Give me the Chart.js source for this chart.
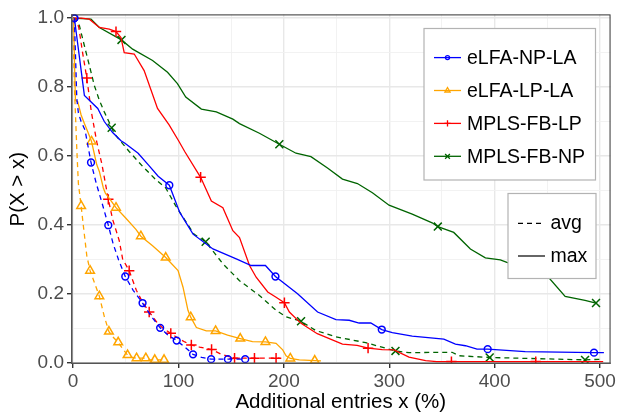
<!DOCTYPE html>
<html><head><meta charset="utf-8">
<script src="https://cdn.jsdelivr.net/npm/chart.js@4"></script>
<style>html,body{margin:0;padding:0;background:#fff}</style>
</head><body>
<canvas id="c" width="618" height="420" style="width:618px;height:420px;display:block"></canvas>
<script>
// ---------- data ----------
const seriesNames = ['eLFA-NP-LA', 'eLFA-LP-LA', 'MPLS-FB-LP', 'MPLS-FB-NP'];
const statNames = ['avg', 'max'];
const xTickValues = [0, 100, 200, 300, 400, 500];
const yTickValues = [0.0, 0.2, 0.4, 0.6, 0.8, 1.0];
const xTitle = 'Additional entries x (%)';
const yTitle = 'P(X > x)';

// eLFA-NP-LA
const npAvg = [[1.2,1.0],[2.5,0.87],[3.5,0.767],[5,0.725],[7.6,0.70],[11.3,0.675],[17,0.581],[22,0.52],[27.4,0.464],[33.4,0.399],[38,0.345],[43.2,0.298],[49.5,0.25],[57,0.21],[65.9,0.173],[74,0.135],[82.6,0.101],[90,0.08],[98.3,0.064],[106,0.045],[113.8,0.024],[122,0.015],[131,0.01],[146.9,0.01],[163.3,0.01]];
const npAvgMarks = [[1.2,1.0],[17,0.581],[33.4,0.399],[49.5,0.25],[65.9,0.173],[82.6,0.101],[98.3,0.064],[113.8,0.024],[131,0.01],[146.9,0.01],[163.3,0.01]];
const npMax = [[1.2,1.0],[10.7,0.776],[15.4,0.762],[23.4,0.738],[29.6,0.70],[37.5,0.668],[45.4,0.644],[49.2,0.637],[61.7,0.608],[71.2,0.575],[80.7,0.541],[91.3,0.515],[101.2,0.436],[113.8,0.373],[132.7,0.33],[154.8,0.301],[169,0.282],[182.5,0.282],[192,0.25],[213,0.20],[232,0.147],[249.4,0.125],[262,0.123],[271.4,0.115],[282.5,0.115],[292.9,0.096],[302.9,0.087],[321.8,0.077],[351.8,0.068],[362.8,0.054],[372.3,0.049],[383.3,0.039],[393.4,0.039],[429,0.032],[494.3,0.029],[503.7,0.029]];
const npMaxMarks = [[1.2,1.0],[91.3,0.515],[192,0.25],[292.9,0.096],[393.4,0.039],[494.3,0.029]];

// eLFA-LP-LA
const lpAvg = [[0,1.0],[0.6,0.88],[1.5,0.78],[2.5,0.70],[3.5,0.62],[5,0.52],[7.6,0.455],[10,0.39],[13,0.31],[16.1,0.267],[20.5,0.23],[24.9,0.193],[29.5,0.135],[34,0.09],[38.5,0.072],[42.8,0.059],[47,0.04],[51.7,0.022],[56,0.015],[60.2,0.013],[69,0.013],[73,0.008],[77.5,0.008],[86.3,0.008]];
const lpAvgMarks = [[7.6,0.455],[16.1,0.267],[24.9,0.193],[34,0.09],[42.8,0.059],[51.7,0.022],[60.2,0.013],[69,0.013],[77.5,0.008],[86.3,0.008]];
const lpMax = [[0.5,1.0],[1.5,0.85],[2.2,0.762],[4.4,0.757],[7.6,0.719],[10.7,0.694],[13.9,0.67],[17.5,0.642],[22.4,0.575],[24.9,0.555],[28.7,0.507],[30.5,0.493],[40.7,0.45],[50.1,0.419],[59.6,0.387],[64.3,0.367],[75.4,0.339],[87.9,0.305],[99.6,0.267],[104.3,0.219],[109,0.152],[111.6,0.132],[117,0.102],[126.4,0.092],[135.2,0.092],[146.6,0.08],[158.6,0.07],[170.2,0.061],[182.5,0.06],[192.6,0.056],[198.9,0.037],[202.1,0.02],[206.1,0.012],[214.7,0.008],[229.3,0.006],[235.2,0.005]];
const lpMaxMarks = [[17.5,0.642],[40.7,0.45],[64.3,0.367],[87.9,0.305],[111.6,0.132],[135.2,0.092],[158.6,0.07],[182.5,0.06],[206.1,0.012],[229.3,0.006]];

// MPLS-FB-LP
const fbLpAvg = [[0,1.0],[3,0.995],[5.4,0.973],[9,0.90],[13,0.826],[17.3,0.728],[22.5,0.64],[27.4,0.575],[33.4,0.474],[37.5,0.416],[43.8,0.354],[47,0.301],[53.2,0.267],[60,0.21],[66,0.175],[72.2,0.147],[80,0.115],[86,0.098],[92.7,0.085],[100,0.07],[106,0.06],[112.2,0.051],[120,0.045],[131.4,0.038],[140,0.025],[153.2,0.013],[172.1,0.013],[192.6,0.013],[196,0.013]];
const fbLpAvgMarks = [[13,0.826],[33.4,0.474],[53.2,0.267],[72.2,0.147],[92.7,0.085],[112.2,0.051],[131.4,0.038],[153.2,0.013],[172.1,0.013],[192.6,0.013]];
const fbLpMax = [[0,1.0],[8,1.0],[15.4,0.997],[24.9,0.973],[34.3,0.968],[40.7,0.961],[45.4,0.944],[48.5,0.90],[58,0.896],[67.4,0.848],[80.1,0.738],[91.1,0.69],[100.5,0.642],[105.9,0.613],[121,0.538],[131.2,0.469],[142.1,0.45],[151.6,0.383],[157.9,0.363],[167.4,0.282],[173.7,0.248],[184.7,0.205],[192.6,0.19],[200.5,0.174],[205.2,0.147],[216.3,0.114],[231.7,0.084],[255.6,0.054],[269.5,0.05],[279.9,0.042],[293.4,0.038],[304.5,0.037],[318.7,0.016],[334.5,0.006],[345,0.003],[503,0.003]];
const fbLpMaxMarks = [[40.7,0.961],[121,0.538],[200.5,0.174],[279.9,0.042],[359,0.003],[439,0.003]];

// MPLS-FB-NP
const fbNpAvg = [[0,1.0],[3,0.995],[6,0.978],[10.7,0.92],[15.4,0.863],[20.1,0.805],[24.9,0.762],[29.6,0.728],[36.6,0.682],[39,0.665],[53.2,0.613],[65.9,0.57],[78.5,0.531],[87.9,0.507],[97.4,0.455],[114.7,0.373],[125.8,0.351],[142.1,0.287],[157.9,0.238],[176.8,0.195],[192.6,0.152],[202.1,0.133],[216.3,0.12],[230.4,0.093],[249.4,0.075],[277.7,0.058],[305.9,0.034],[318.7,0.029],[359.6,0.03],[366,0.02],[395.3,0.015],[485.8,0.008],[503,0.01]];
const fbNpAvgMarks = [[36.6,0.682],[125.8,0.351],[216.3,0.12],[305.9,0.034],[395.3,0.015],[485.8,0.008]];
const fbNpMax = [[0,1.0],[17,0.997],[24.9,0.973],[45.9,0.937],[56.5,0.91],[75.4,0.877],[89.6,0.843],[99,0.81],[106.9,0.771],[121.7,0.736],[135.9,0.728],[151.6,0.707],[157.9,0.694],[176.8,0.666],[195.7,0.634],[211.5,0.608],[225.7,0.598],[241.4,0.565],[255.6,0.533],[269.8,0.52],[284,0.493],[299.8,0.457],[321.8,0.431],[340.7,0.406],[346.1,0.395],[361.2,0.378],[377,0.33],[391.2,0.304],[405.4,0.298],[411.6,0.291],[432,0.273],[451.1,0.248],[466.9,0.192],[485.8,0.181],[496.2,0.173]];
const fbNpMaxMarks = [[45.9,0.937],[195.7,0.634],[346.1,0.395],[496.2,0.173]];

// ---------- styling ----------
const colors = ['#0000ff', '#ffa500', '#ff0000', '#006400'];
const markerStyles = ['circle', 'triangle', 'cross', 'crossRot'];
const markerRadius = [3.4, 5.0, 5.2, 5.6];
const DASH = [5, 4];
const FONT = '"Liberation Sans", Arial, sans-serif';

const lineSets = [
  [npAvg, npMax, npAvgMarks, npMaxMarks],
  [lpAvg, lpMax, lpAvgMarks, lpMaxMarks],
  [fbLpAvg, fbLpMax, fbLpAvgMarks, fbLpMaxMarks],
  [fbNpAvg, fbNpMax, fbNpAvgMarks, fbNpMaxMarks]
];
const toXY = arr => arr.map(p => ({x: p[0], y: p[1]}));

const datasets = [];
lineSets.forEach((s, i) => {
  [0, 1].forEach(k => {
    datasets.push({
      label: seriesNames[i] + ' ' + statNames[k],
      data: toXY(s[k]),
      showLine: true,
      borderColor: colors[i],
      borderWidth: 1.3,
      borderDash: k === 0 ? DASH : [],
      pointRadius: 0,
      pointHoverRadius: 0,
      tension: 0,
      fill: false
    });
    datasets.push({
      label: seriesNames[i] + ' ' + statNames[k] + ' markers',
      data: toXY(s[k + 2]),
      showLine: false,
      pointStyle: markerStyles[i],
      pointRadius: markerRadius[i],
      pointBorderWidth: 1.5,
      pointBorderColor: colors[i],
      pointBackgroundColor: 'rgba(0,0,0,0)',
      borderColor: colors[i]
    });
  });
});

const isMajorX = v => Math.abs(v % 100) < 1e-6;
const isMajorY = v => Math.abs(Math.round(v * 10) % 2) === 0;

const framePlugin = {
  id: 'frame',
  afterDraw(chart) {
    const ctx = chart.ctx, a = chart.chartArea;
    ctx.save();
    // panel border
    ctx.strokeStyle = '#333333';
    ctx.lineWidth = 1;
    ctx.strokeRect(a.left + 0.5, a.top + 0.5, a.right - a.left - 1, a.bottom - a.top - 1);
    // axis lines
    ctx.strokeStyle = '#555555';
    ctx.lineWidth = 1.6;
    ctx.beginPath();
    ctx.moveTo(a.left + 0.8, a.top); ctx.lineTo(a.left + 0.8, a.bottom);
    ctx.moveTo(a.left, a.bottom - 0.8); ctx.lineTo(a.right, a.bottom - 0.8);
    ctx.stroke();

    const drawPt = (style, x, y, r, color) => {
      ctx.save();
      ctx.strokeStyle = color; ctx.fillStyle = 'rgba(0,0,0,0)';
      Chart.helpers.drawPoint(ctx, {pointStyle: style, radius: r, borderWidth: 1.3, rotation: 0}, x, y);
      ctx.restore();
    };

    // legend 1: series
    ctx.fillStyle = '#ffffff';
    ctx.strokeStyle = '#b3b3b3';
    ctx.lineWidth = 1.2;
    ctx.fillRect(424, 28.5, 171.5, 151.5);
    ctx.strokeRect(424, 28.5, 171.5, 151.5);
    const rowY = [57.6, 90.5, 123.4, 156.3];
    seriesNames.forEach((name, i) => {
      const y = rowY[i];
      ctx.strokeStyle = colors[i];
      ctx.lineWidth = 1.3;
      ctx.setLineDash([]);
      ctx.beginPath(); ctx.moveTo(434, y); ctx.lineTo(461, y); ctx.stroke();
      drawPt(markerStyles[i], 447.5, y, markerRadius[i] * 0.6, colors[i]);
      ctx.fillStyle = '#000000';
      ctx.font = '19.5px ' + FONT;
      ctx.textBaseline = 'alphabetic';
      ctx.textAlign = 'left';
      ctx.fillText(name, 467, y + 6.8);
    });

    // legend 2: statistic
    ctx.fillStyle = '#ffffff';
    ctx.strokeStyle = '#b3b3b3';
    ctx.lineWidth = 1.2;
    ctx.fillRect(508, 193.5, 88, 85);
    ctx.strokeRect(508, 193.5, 88, 85);
    const rowY2 = [223.3, 256];
    statNames.forEach((name, k) => {
      const y = rowY2[k];
      ctx.strokeStyle = '#000000';
      ctx.lineWidth = 1.2;
      ctx.setLineDash(k === 0 ? DASH : []);
      ctx.beginPath(); ctx.moveTo(518, y); ctx.lineTo(545, y); ctx.stroke();
      ctx.setLineDash([]);
      ctx.fillStyle = '#000000';
      ctx.font = '19.5px ' + FONT;
      ctx.fillText(name, 550.5, y + 6);
    });
    ctx.restore();
  }
};

new Chart(document.getElementById('c'), {
  type: 'scatter',
  data: {datasets},
  options: {
    responsive: false,
    animation: false,
    devicePixelRatio: 1,
    layout: {padding: {top: 12, right: 5.5, left: 0, bottom: 0}},
    plugins: {legend: {display: false}, tooltip: {enabled: false}},
    scales: {
      x: {
        type: 'linear',
        min: -2, max: 510,
        afterBuildTicks: s => { const t = []; for (let v = 0; v <= 500; v += 50) t.push({value: v}); s.ticks = t; },
        afterFit: s => { s.height = 56; },
        grid: {
          color: c => isMajorX(c.tick.value) ? '#e8e8e8' : '#f0f0f0',
          lineWidth: c => isMajorX(c.tick.value) ? 1.4 : 0.9,
          tickColor: c => isMajorX(c.tick.value) ? '#333333' : 'rgba(0,0,0,0)',
          tickLength: 4,
          drawTicks: true
        },
        border: {display: false},
        ticks: {
          autoSkip: false, maxRotation: 0,
          padding: 2,
          color: '#4d4d4d',
          font: {family: FONT, size: 19},
          callback: v => xTickValues.includes(v) ? String(v) : ''
        },
        title: {display: true, text: xTitle, color: '#000', font: {family: FONT, size: 20.5}, padding: {top: 0, bottom: 5}}
      },
      y: {
        type: 'linear',
        min: -0.004, max: 1.011,
        afterBuildTicks: s => { const t = []; for (let i = 0; i <= 10; i++) t.push({value: i / 10}); s.ticks = t; },
        afterFit: s => { s.width = 71; },
        grid: {
          color: c => isMajorY(c.tick.value) ? '#e8e8e8' : '#f0f0f0',
          lineWidth: c => isMajorY(c.tick.value) ? 1.4 : 0.9,
          tickColor: c => isMajorY(c.tick.value) ? '#333333' : 'rgba(0,0,0,0)',
          tickLength: 4,
          drawTicks: true
        },
        border: {display: false},
        ticks: {
          autoSkip: false,
          padding: 3,
          color: '#4d4d4d',
          font: {family: FONT, size: 19},
          callback: v => yTickValues.some(t => Math.abs(t - v) < 1e-6) ? v.toFixed(1) : ''
        },
        title: {display: true, text: yTitle, color: '#000', font: {family: FONT, size: 20.5}, padding: {top: 6, bottom: 0}}
      }
    }
  },
  plugins: [framePlugin]
});
</script>
</body></html>
